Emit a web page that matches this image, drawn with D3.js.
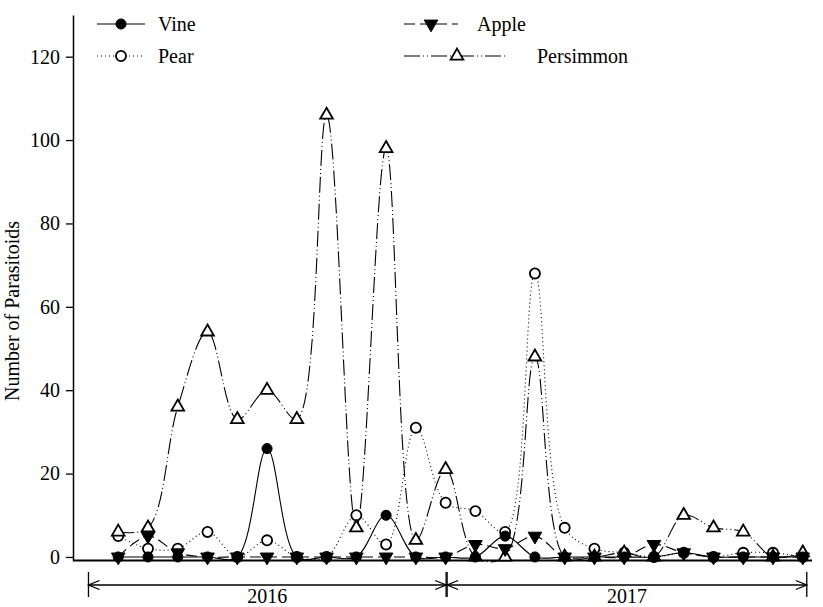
<!DOCTYPE html>
<html>
<head>
<meta charset="utf-8">
<script src="https://cdn.jsdelivr.net/npm/d3@7"></script>
<style>
  body { margin: 0; background: #fff; }
  svg text { font-family: "Liberation Serif", "Times New Roman", serif; fill: #000; }
</style>
</head>
<body>
<div class="chart"></div>
<script>
// sampling dates, 12 per year
var years = ["2016", "2017"];
var perYear = 12;
var vine      = [0, 0, 0, 0, 0, 26, 0, 0, 0, 10, 0, 0,  0, 5, 0, 0, 0, 0, 0, 1, 0, 0, 0, 0];
var apple     = [0, 5, 1, 0, 0, 0, 0, 0, 0, 0, 0, 0,    3, 2, 5, 0, 0, 0, 3, 1, 0, 0, 0, 0];
var pear      = [5, 2, 2, 6, 0, 4, 0, 0, 10, 3, 31, 13, 11, 6, 68, 7, 2, 1, 0, 1, 0, 1, 1, 0];
var persimmon = [6, 7, 36, 54, 33, 40, 33, 106, 7, 98, 4, 21, 0, 0, 48, 0, 0, 1, 0, 10, 7, 6, 0, 1];
var yTicks = [0, 20, 40, 60, 80, 100, 120];

var series = [
  { name: "Vine", values: vine, dash: null, marker: "circle", filled: true },
  { name: "Apple", values: apple, dash: "11,5", marker: "down", filled: true },
  { name: "Pear", values: pear, dash: "1,3", marker: "circle", filled: false },
  { name: "Persimmon", values: persimmon, dash: "16,3,1,3,1,3", marker: "up", filled: false }
];

var W = 823, H = 607;
var margin = { top: 15, right: 11, bottom: 46.5, left: 73 },
    width = W - margin.left - margin.right,
    height = H - margin.top - margin.bottom;

var svg = d3.select(".chart").append("svg")
    .attr("width", W).attr("height", H);
var g = svg.append("g")
    .attr("transform", "translate(" + margin.left + "," + margin.top + ")");

var x = d3.scaleLinear().domain([-1.52, 23.31]).range([0, width]);
var y = d3.scaleLinear().domain([-0.85, 130]).range([height, 0]);

// Y axis
var yAxis = g.append("g")
    .call(d3.axisLeft(y).tickValues(yTicks).tickSize(7).tickSizeOuter(0).tickPadding(6));
yAxis.select(".domain").attr("stroke-width", 1.5);
yAxis.selectAll(".tick line").attr("stroke-width", 1.3);
yAxis.selectAll("text").style("font-size", "20px");

// X axis line only
g.append("line")
    .attr("x1", 0).attr("x2", width)
    .attr("y1", height).attr("y2", height)
    .attr("stroke", "#000").attr("stroke-width", 1.8);

// axis title
g.append("text")
    .attr("transform", "translate(" + (-54) + "," + (y(59)) + ") rotate(-90)")
    .attr("text-anchor", "middle")
    .style("font-size", "20px")
    .text("Number of Parasitoids");

// lines
var line = d3.line()
    .x(function(d, i) { return x(i); })
    .y(function(d) { return y(d); })
    .curve(d3.curveCatmullRom.alpha(0.5));

var sym = {
  circle: d3.symbol().type(d3.symbolCircle).size(80),
  up: d3.symbol().type(d3.symbolTriangle).size(70),
  down: d3.symbol().type(d3.symbolTriangle).size(80)
};

function drawMarker(sel, s, cx, cy) {
  sel.append("path")
    .attr("d", sym[s.marker]())
    .attr("transform", "translate(" + cx + "," + cy + ")" + (s.marker === "down" ? " rotate(180)" : ""))
    .attr("fill", s.filled ? "#000" : "#fff")
    .attr("stroke", "#000")
    .attr("stroke-width", s.filled ? 1 : 1.8);
}

series.forEach(function(s) {
  g.append("path")
    .datum(s.values)
    .attr("d", line)
    .attr("fill", "none")
    .attr("stroke", "#000")
    .attr("stroke-width", 1.1)
    .attr("stroke-dasharray", s.dash);
});

// markers: open ones first, filled on top like the original
[series[2], series[3], series[1], series[0]].forEach(function(s) {
  var mg = g.append("g");
  s.values.forEach(function(v, i) { drawMarker(mg, s, x(i), y(v)); });
});

// legend
var legPos = [
  { s: series[0], lx: 97, lx2: 145, mx: 121, tx: 158, ty: 24 },
  { s: series[1], lx: 404, lx2: 458, mx: 431, tx: 477, ty: 24 },
  { s: series[2], lx: 97, lx2: 145, mx: 121, tx: 158, ty: 56 },
  { s: series[3], lx: 404, lx2: 505, mx: 457, tx: 537, ty: 56 }
];
legPos.forEach(function(p) {
  svg.append("line")
    .attr("x1", p.lx).attr("x2", p.lx2).attr("y1", p.ty).attr("y2", p.ty)
    .attr("stroke", "#000").attr("stroke-width", 1.1)
    .attr("stroke-dasharray", p.s.dash);
  drawMarker(svg, p.s, p.mx, p.ty);
  svg.append("text")
    .attr("x", p.tx).attr("y", p.ty)
    .attr("dy", "0.33em")
    .style("font-size", "20px")
    .text(p.s.name);
});

// year brackets under the axis
var byY = 585;
years.forEach(function(yr, k) {
  var x0 = margin.left + x(k * perYear - 1) + (k === 0 ? 0 : 1.5),
      x1 = margin.left + x(k * perYear + perYear - 1) + (k === 0 ? 0.5 : 4);
  var b = svg.append("g").attr("stroke", "#000").attr("fill", "none").attr("stroke-width", 1.3);
  b.append("line").attr("x1", x0).attr("x2", x1).attr("y1", byY).attr("y2", byY);
  b.append("line").attr("x1", x0).attr("x2", x0).attr("y1", byY - 13).attr("y2", byY + 12);
  b.append("line").attr("x1", x1).attr("x2", x1).attr("y1", byY - 13).attr("y2", byY + 12);
  b.append("path").attr("d", "M" + (x0 + 11) + "," + (byY - 4.5) + "L" + x0 + "," + byY + "L" + (x0 + 11) + "," + (byY + 4.5));
  b.append("path").attr("d", "M" + (x1 - 11) + "," + (byY - 4.5) + "L" + x1 + "," + byY + "L" + (x1 - 11) + "," + (byY + 4.5));
  svg.append("text")
    .attr("x", (x0 + x1) / 2).attr("y", 603)
    .attr("text-anchor", "middle")
    .style("font-size", "20px")
    .text(yr);
});
</script>
</body>
</html>
